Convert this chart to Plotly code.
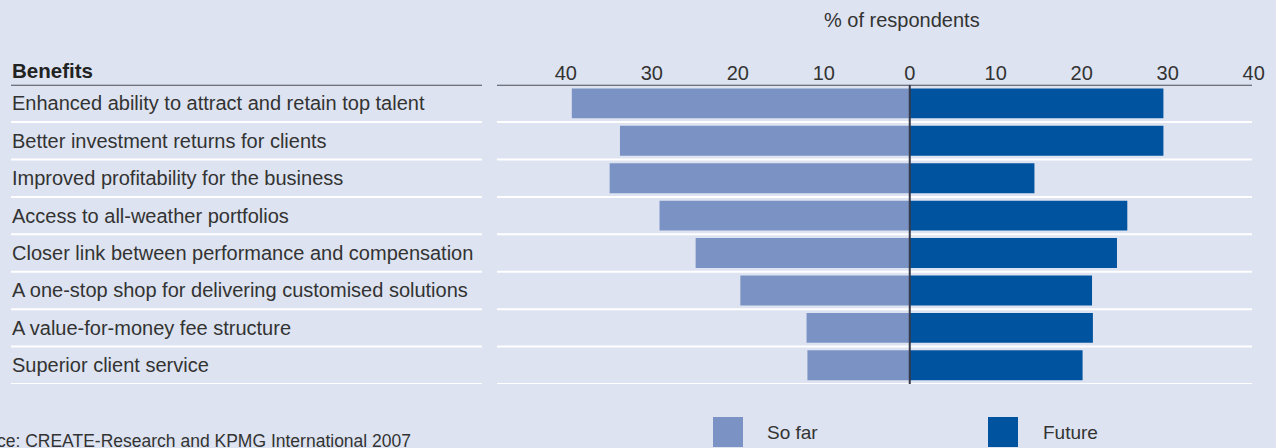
import plotly.graph_objects as go

# Survey data: share of respondents citing each benefit
benefits = [
    "Enhanced ability to attract and retain top talent",
    "Better investment returns for clients",
    "Improved profitability for the business",
    "Access to all-weather portfolios",
    "Closer link between performance and compensation",
    "A one-stop shop for delivering customised solutions",
    "A value-for-money fee structure",
    "Superior client service",
]
so_far = [39.3, 33.7, 34.9, 29.1, 24.9, 19.7, 12.0, 11.9]
future = [29.5, 29.5, 14.5, 25.3, 24.1, 21.2, 21.3, 20.1]

tick_values = [-40, -30, -20, -10, 0, 10, 20, 30, 40]
tick_labels = ["40", "30", "20", "10", "0", "10", "20", "30", "40"]

W, H = 1276, 448
BG = "#dde3f0"
SO_FAR_COLOR = "#7b93c4"
FUTURE_COLOR = "#00539f"
TEXT = "#333333"
FONT = "Liberation Sans, Arial, sans-serif"


def px(x):
    return x / W


def py(y):
    return 1 - y / H


fig = go.Figure()
fig.add_trace(go.Bar(
    y=benefits, x=[-v for v in so_far], orientation="h",
    marker=dict(color=SO_FAR_COLOR, line=dict(width=0)),
    name="So far", customdata=so_far,
    hovertemplate="%{y}<br>So far: %{customdata}%<extra></extra>",
))
fig.add_trace(go.Bar(
    y=benefits, x=future, orientation="h",
    marker=dict(color=FUTURE_COLOR, line=dict(width=0)),
    name="Future",
    hovertemplate="%{y}<br>Future: %{x}%<extra></extra>",
))

fig.update_layout(
    width=W, height=H,
    margin=dict(l=0, r=0, t=0, b=0, autoexpand=False),
    paper_bgcolor=BG, plot_bgcolor=BG,
    barmode="overlay", bargap=0.2,
    showlegend=False,
    font=dict(family=FONT, color=TEXT),
    xaxis=dict(
        domain=[px(497), px(1258)], range=[-48.0, 40.5],
        side="top", tickvals=tick_values, ticktext=tick_labels,
        tickfont=dict(size=20, color=TEXT), ticks="", automargin=False,
        showgrid=False, zeroline=False, showline=False, fixedrange=True,
    ),
    yaxis=dict(
        domain=[py(384), py(84.7)], range=[7.5, -0.5],
        categoryorder="array", categoryarray=benefits, automargin=False,
        showticklabels=False, showgrid=False, zeroline=False,
        showline=False, fixedrange=True,
    ),
)

shapes = []
# white row separators across the label column and the plot
for k in range(1, len(benefits) + 1):
    for x0, x1 in [(11, 482), (497, 1252)]:
        shapes.append(dict(type="line", xref="paper", yref="y",
                           x0=px(x0), x1=px(x1), y0=k - 0.5, y1=k - 0.5,
                           line=dict(color="white", width=2), layer="below"))
# dark rule under the header
for x0, x1 in [(11, 482), (497, 1252)]:
    shapes.append(dict(type="line", xref="paper", yref="y",
                       x0=px(x0), x1=px(x1), y0=-0.5, y1=-0.5,
                       line=dict(color="#4d4d55", width=2)))
# zero line
shapes.append(dict(type="line", xref="x", yref="y", x0=0, x1=0,
                   y0=-0.5, y1=len(benefits) - 0.5,
                   line=dict(color="#363a4a", width=2), layer="above"))
# legend swatches
for x0, color in [(713, SO_FAR_COLOR), (988, FUTURE_COLOR)]:
    shapes.append(dict(type="rect", xref="paper", yref="paper",
                       x0=px(x0), x1=px(x0 + 30), y0=py(447), y1=py(417),
                       fillcolor=color, line=dict(width=0)))
fig.update_layout(shapes=shapes)

annotations = []
for name in benefits:
    annotations.append(dict(xref="paper", yref="y", x=px(10), y=name,
                            xanchor="left", yanchor="middle", text=name,
                            showarrow=False, font=dict(size=20, color=TEXT)))
annotations += [
    dict(xref="paper", yref="paper", x=px(10), y=py(71), xanchor="left",
         yanchor="middle", text="<b>Benefits</b>", showarrow=False,
         font=dict(size=20.5, color="#222222")),
    dict(xref="paper", yref="paper", x=px(901.5), y=py(20), xanchor="center",
         yanchor="middle", text="% of respondents", showarrow=False,
         font=dict(size=20, color=TEXT)),
    dict(xref="paper", yref="paper", x=px(765), y=py(432), xanchor="left",
         yanchor="middle", text="So far", showarrow=False,
         font=dict(size=19, color=TEXT)),
    dict(xref="paper", yref="paper", x=px(1041), y=py(432), xanchor="left",
         yanchor="middle", text="Future", showarrow=False,
         font=dict(size=19, color=TEXT)),
    dict(xref="paper", yref="paper", x=px(413), y=py(441), xanchor="right",
         yanchor="middle",
         text="Source: CREATE-Research and KPMG International 2007",
         showarrow=False, font=dict(size=17.5, color=TEXT)),
]
fig.update_layout(annotations=annotations)

fig.write_html("out.html")
